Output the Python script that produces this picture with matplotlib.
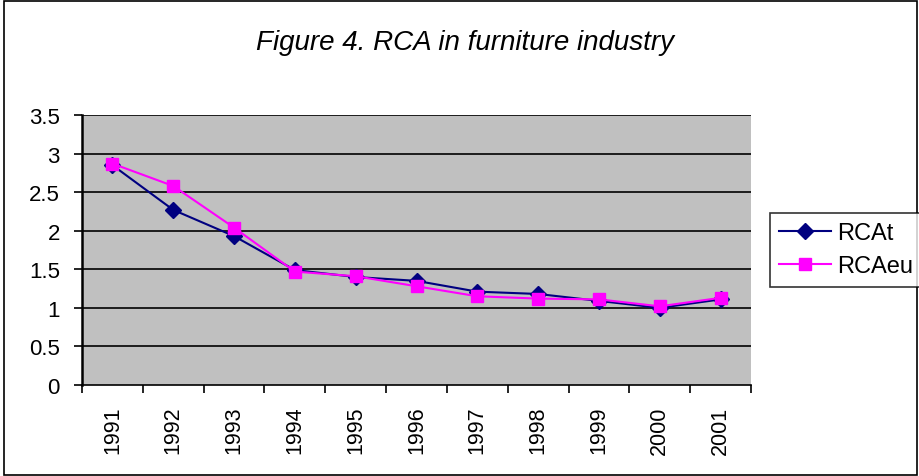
import matplotlib
matplotlib.use("Agg")
import matplotlib.pyplot as plt
from matplotlib.patches import Rectangle

years = ["1991", "1992", "1993", "1994", "1995", "1996", "1997", "1998", "1999", "2000", "2001"]
rca_t = [2.85, 2.27, 1.93, 1.49, 1.40, 1.35, 1.21, 1.18, 1.09, 1.00, 1.11]
rca_eu = [2.87, 2.58, 2.04, 1.47, 1.41, 1.28, 1.15, 1.12, 1.11, 1.02, 1.13]
yticks = [0, 0.5, 1, 1.5, 2, 2.5, 3, 3.5]

plt.rcParams['font.family'] = ['Liberation Sans', 'DejaVu Sans']

W, H = 919, 477
fig = plt.figure(figsize=(W / 100, H / 100), dpi=100)
fig.patch.set_facecolor('white')
fig.patches.append(Rectangle((4 / W, 1 / H), 1 - 6 / W, 1 - 3 / H, transform=fig.transFigure,
                             fill=False, edgecolor='black', linewidth=1.2))

ax = fig.add_axes([82 / W, 1 - 386 / H, (751 - 82) / W, (386 - 116) / H])
ax.set_facecolor('#c0c0c0')
x = list(range(len(years)))
ax.plot(x, rca_t, color='#000080', marker='D', markersize=8, linewidth=1.5, label='RCAt', zorder=3)
ax.plot(x, rca_eu, color='#ff00ff', marker='s', markersize=9, linewidth=1.5, label='RCAeu',
        markeredgecolor='#ff00ff', markerfacecolor='#ff00ff', zorder=4)
ax.set_xlim(-0.5, len(years) - 0.5)
ax.set_ylim(0, 3.5)
ax.set_yticks(yticks)
ax.set_yticklabels([f"{v:g}" for v in yticks], fontsize=16)
ax.set_xticks([i - 0.5 for i in range(len(years) + 1)], minor=False)
ax.set_xticklabels([])
ax.set_xticks(x, minor=True)
ax.set_xticklabels(years, minor=True, rotation=90, fontsize=15.5)
ax.tick_params(axis='x', which='minor', length=0, pad=15)
ax.tick_params(axis='x', which='major', length=6, direction='out', width=1.2)
ax.tick_params(axis='y', length=6, direction='out', width=1.2, pad=10)
for y in yticks[1:]:
    ax.axhline(y, color='black', linewidth=1.2, zorder=1)
for s in ['top', 'right']:
    ax.spines[s].set_visible(False)
ax.spines['left'].set_linewidth(1.8)
ax.spines['bottom'].set_linewidth(1.2)

fig.text(465 / W, 1 - 43 / H, 'Figure 4. RCA in furniture industry', ha='center', va='center',
         fontsize=20, style='italic')

leg = fig.legend(loc='upper left', bbox_to_anchor=(770 / W, 1 - 214 / H), fontsize=17,
                 frameon=True, fancybox=False, edgecolor='black', handlelength=2.2,
                 borderpad=0.4, labelspacing=0.45, handletextpad=0.25, borderaxespad=0)
leg.get_frame().set_linewidth(1.2)

fig.savefig('out.png', dpi=100)
